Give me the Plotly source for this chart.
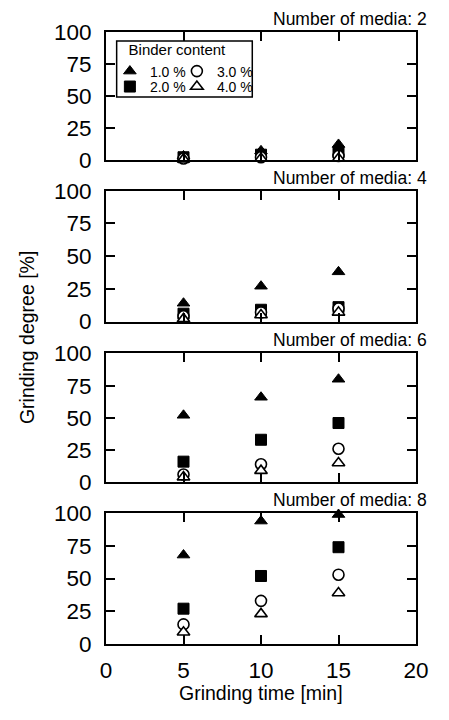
import plotly.graph_objects as go

# ---- data ----
grinding_time = [5, 10, 15]
media_counts = [2, 4, 6, 8]
binder_labels = ["1.0 %", "2.0 %", "3.0 %", "4.0 %"]

# Grinding degree [%] per number of media, per binder content
media2_b10 = [3, 7, 12]
media2_b20 = [2, 4, 6]
media2_b30 = [1, 2, 3]
media2_b40 = [0.5, 1, 1]

media4_b10 = [14, 27, 38]
media4_b20 = [6, 9, 11]
media4_b30 = [4, 7, 10]
media4_b40 = [2, 5, 7]

media6_b10 = [52, 66, 80]
media6_b20 = [16, 33, 46]
media6_b30 = [6, 14, 26]
media6_b40 = [4, 9, 15]

media8_b10 = [68, 94, 99]
media8_b20 = [27, 52, 74]
media8_b30 = [15, 33, 53]
media8_b40 = [9, 23, 39]

panel_data = [
    [media2_b10, media2_b20, media2_b30, media2_b40],
    [media4_b10, media4_b20, media4_b30, media4_b40],
    [media6_b10, media6_b20, media6_b30, media6_b40],
    [media8_b10, media8_b20, media8_b30, media8_b40],
]

x_ticks = [0, 5, 10, 15, 20]
y_ticks = [0, 25, 50, 75, 100]

# ---- styling ----
FONT = "Liberation Sans, Arial, sans-serif"
# page has an 8px body margin; figure is sized to fit within the 449x720 window
W, H = 433, 704
ML, MR, MT, MB = 98, 15, 23, 68
PW = W - ML - MR          # 320
PH = H - MT - MB          # 613
PX0, PY0 = 106, 31        # page position of the plot area's top-left corner


def fx(xpage):
    return (xpage - PX0) / PW


def fy(ypage):
    return 1 - (ypage - PY0) / PH


domains = [[fy(159), fy(31)], [fy(321), fy(190)], [fy(482), fy(353)], [fy(644), fy(513)]]

marker_styles = [
    dict(symbol="triangle-up", size=11, color="black", line=dict(color="black", width=1)),
    dict(symbol="square", size=11, color="black", line=dict(color="black", width=1)),
    dict(symbol="circle", size=11, color="white", line=dict(color="black", width=1.6)),
    dict(symbol="triangle-up", size=11, color="white", line=dict(color="black", width=1.6)),
]
legend_ids = ["legend", "legend2", "legend", "legend2"]
legend_widths = [22, 22, 40, 40]

fig = go.Figure()

for p, series in enumerate(panel_data):
    ax = "" if p == 0 else str(p + 1)
    for s, vals in enumerate(series):
        fig.add_trace(go.Scatter(
            x=grinding_time, y=vals, mode="markers",
            name=binder_labels[s],
            marker=marker_styles[s],
            xaxis="x" + ax, yaxis="y" + ax,
            cliponaxis=False,
            showlegend=(p == 0),
            legend=legend_ids[s],
            legendwidth=legend_widths[s],
        ))

axis_common = dict(
    showgrid=False, zeroline=False, showline=True, linecolor="black", linewidth=2,
    mirror="ticks", ticks="inside", ticklen=9, tickwidth=2, tickcolor="black",
    tickfont=dict(family=FONT, size=22.5, color="black"),
)

layout = dict(
    width=W, height=H,
    margin=dict(l=ML, r=MR, t=MT, b=MB),
    plot_bgcolor="white", paper_bgcolor="white",
    font=dict(family=FONT, color="black"),
    showlegend=True,
)

for p in range(4):
    ax = "" if p == 0 else str(p + 1)
    layout["xaxis" + ax] = dict(
        axis_common, range=[0, 20], tickvals=x_ticks,
        showticklabels=(p == 3), anchor="y" + ax, domain=[0, 1],
        ticklabelstandoff=5,
    )
    layout["yaxis" + ax] = dict(
        axis_common, range=[0, 100], tickvals=y_ticks,
        anchor="x" + ax, domain=domains[p], ticklabelstandoff=8,
    )

legend_font = dict(family=FONT, size=14, color="black")
layout["legend"] = dict(
    orientation="h", x=fx(110), y=fy(35), xanchor="left", yanchor="top",
    title=dict(text="\u00a0\u00a0\u00a0\u00a0Binder content", side="top",
               font=dict(family=FONT, size=15)),
    font=legend_font, bgcolor="rgba(0,0,0,0)", itemwidth=30, tracegroupgap=0,
)
layout["legend2"] = dict(
    orientation="h", x=fx(110), y=fy(70), xanchor="left", yanchor="top",
    font=legend_font, bgcolor="rgba(0,0,0,0)", itemwidth=30,
)

fig.update_layout(**layout)

# legend frame
fig.add_shape(type="rect", xref="paper", yref="paper",
              x0=fx(117), x1=fx(257), y0=fy(96), y1=fy(40),
              line=dict(color="black", width=1.5), fillcolor="white", layer="below")

# panel titles
for p, n in enumerate(media_counts):
    fig.add_annotation(
        text=f"Number of media: {n}", xref="paper", yref="paper",
        x=fx(439), y=domains[p][1], xanchor="right", yanchor="bottom",
        showarrow=False, font=dict(family=FONT, size=17.5, color="black"), yshift=1,
    )

# axis titles
fig.add_annotation(
    text="Grinding degree [%]", xref="paper", yref="paper",
    x=fx(24), y=fy(337), xanchor="center", yanchor="middle",
    textangle=-90, showarrow=False, font=dict(family=FONT, size=19.5, color="black"),
)
fig.add_annotation(
    text="Grinding time [min]", xref="paper", yref="paper",
    x=fx(266), y=fy(693), xanchor="center", yanchor="middle",
    showarrow=False, font=dict(family=FONT, size=19.5, color="black"),
)

fig.write_html("out.html")
